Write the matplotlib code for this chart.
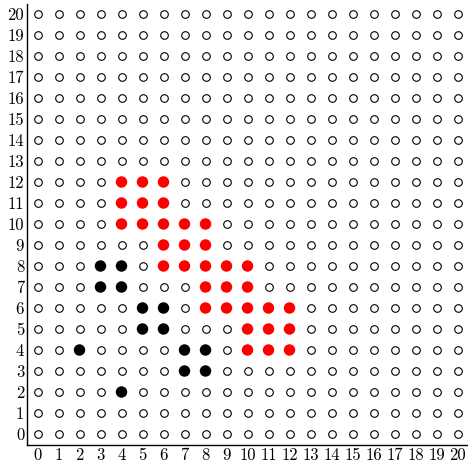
import numpy as np
import matplotlib
matplotlib.use('Agg')
import matplotlib.pyplot as plt

# grid of open circles
grid_n = 21

# red filled points
red_x = [4, 5, 6, 4, 5, 6, 4, 5, 6, 7, 8, 6, 7, 8, 6, 7, 8, 9, 10,
         8, 9, 10, 8, 9, 10, 11, 12, 10, 11, 12, 10, 11, 12]
red_y = [12, 12, 12, 11, 11, 11, 10, 10, 10, 10, 10, 9, 9, 9, 8, 8, 8, 8, 8,
         7, 7, 7, 6, 6, 6, 6, 6, 5, 5, 5, 4, 4, 4]

# black filled points
black_x = [3, 4, 3, 4, 5, 6, 5, 6, 2, 7, 8, 7, 8, 4]
black_y = [8, 8, 7, 7, 6, 6, 5, 5, 4, 4, 4, 3, 3, 2]

tick_labels = [str(i) for i in range(grid_n)]

fig = plt.figure(figsize=(4.68, 4.62), dpi=100)
ax = fig.add_axes([27 / 468, 17.5 / 462, 441 / 468, 441 / 462])

filled = set(zip(red_x, red_y)) | set(zip(black_x, black_y))
gx, gy = [], []
for i in range(grid_n):
    for j in range(grid_n):
        if (i, j) not in filled:
            gx.append(i)
            gy.append(j)

ax.scatter(gx, gy, s=30, facecolors='white', edgecolors='black', linewidths=0.8, zorder=2)
ax.scatter(red_x, red_y, s=68, color='#ff0000', edgecolors='none', zorder=3)
ax.scatter(black_x, black_y, s=68, color='black', edgecolors='none', zorder=3)

ax.set_xlim(-0.5, 20.5)
ax.set_ylim(-0.5, 20.5)
ax.spines['top'].set_visible(False)
ax.spines['right'].set_visible(False)
ax.spines['left'].set_linewidth(1.0)
ax.spines['bottom'].set_linewidth(1.0)

ax.set_xticks(range(grid_n))
ax.set_yticks(range(grid_n))
ax.set_xticklabels(tick_labels, fontfamily='cmr10', fontsize=12)
ax.set_yticklabels(tick_labels, fontfamily='cmr10', fontsize=12)
ax.tick_params(length=0, pad=2)

fig.savefig('out.png', dpi=100)
